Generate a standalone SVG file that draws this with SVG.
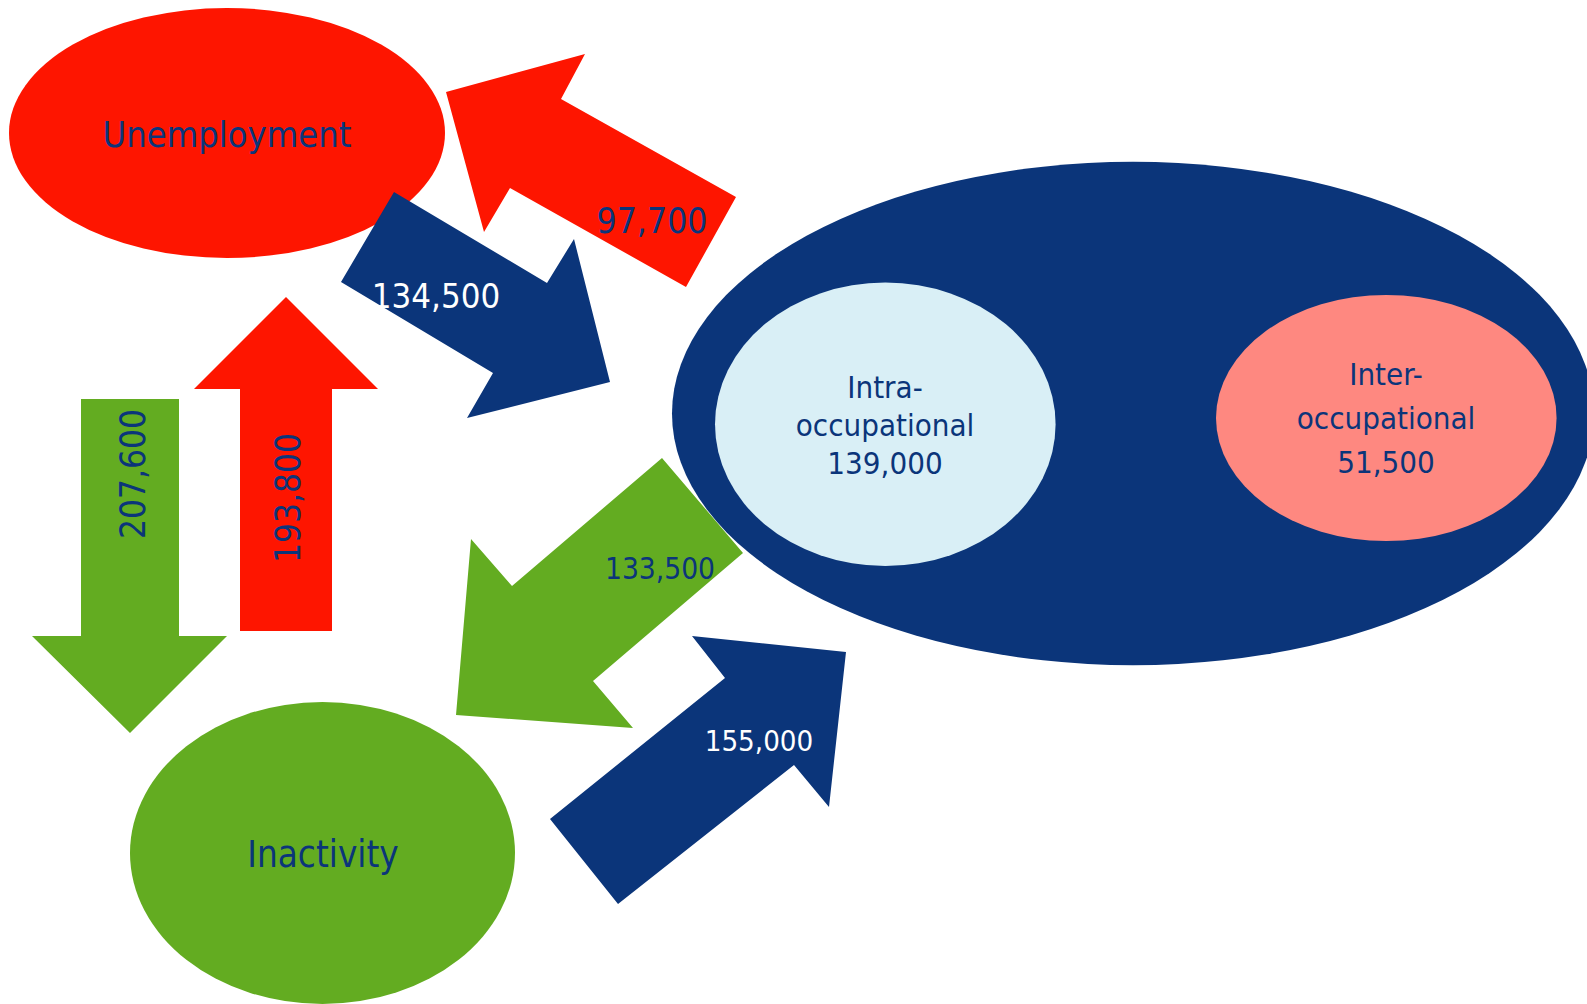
<svg xmlns="http://www.w3.org/2000/svg" width="1587" height="1004" viewBox="0 0 1587 1004">
<style>
text{font-family:"DejaVu Sans Condensed","DejaVu Sans",sans-serif;font-stretch:condensed;text-anchor:middle;fill:#0B357A}
.red{fill:#FE1500}.navy{fill:#0B357A}.green{fill:#63AC21}.light{fill:#D9EFF6}.salmon{fill:#FE8880}
.w{fill:#FFFFFF}
</style>
<rect width="1587" height="1004" fill="#FFFFFF"/>
<g id="unemployment">
<ellipse class="red" cx="227" cy="133" rx="218" ry="125"/>
<text x="227" y="147" font-size="36">Unemployment</text>
</g>
<g id="inactivity">
<ellipse class="green" cx="322.5" cy="853" rx="192.5" ry="151"/>
<text x="323" y="867" font-size="36.5">Inactivity</text>
</g>
<g id="employment">
<ellipse class="navy" cx="1133" cy="413.5" rx="461" ry="251.7"/>
</g>
<g id="intra">
<ellipse class="light" cx="885.3" cy="424.3" rx="170.3" ry="141.7"/>
<text font-size="31"><tspan x="885" y="398">Intra-</tspan><tspan x="885" y="436">occupational</tspan><tspan x="885" y="474">139,000</tspan></text>
</g>
<g id="inter">
<ellipse class="salmon" cx="1386.3" cy="418" rx="170.3" ry="123"/>
<text font-size="31"><tspan x="1386" y="385">Inter-</tspan><tspan x="1386" y="429">occupational</tspan><tspan x="1386" y="473">51,500</tspan></text>
</g>
<g id="connectors">
<polygon class="red" points="446,92 585,54 561,99 736,197 686,287 510,188 484,232"/>
<text x="652" y="232.5" font-size="35.3">97,700</text>
<polygon class="navy" points="394,192 547,283 574,239 610,382 467,418 493,373 341,282"/>
<text class="w" x="436" y="308" font-size="34.5">134,500</text>
<polygon class="green" points="81,399 179,399 179,636 227,636 130,733 32,636 81,636"/>
<text transform="translate(145,474) rotate(-90)" font-size="35">207,600</text>
<polygon class="red" points="286,297 378,389 332,389 332,631 240,631 240,389 194,389"/>
<text transform="translate(300,498) rotate(-90)" font-size="35">193,800</text>
<polygon class="green" points="662,458 743,553 593,681 633,728 456,715 471,539 512,586"/>
<text x="660" y="579" font-size="29.6">133,500</text>
<polygon class="navy" points="618,904 550,819 725,678 692,636 846,652 829,807 794,765"/>
<text class="w" x="759" y="751" font-size="29.2">155,000</text>
</g>
</svg>
